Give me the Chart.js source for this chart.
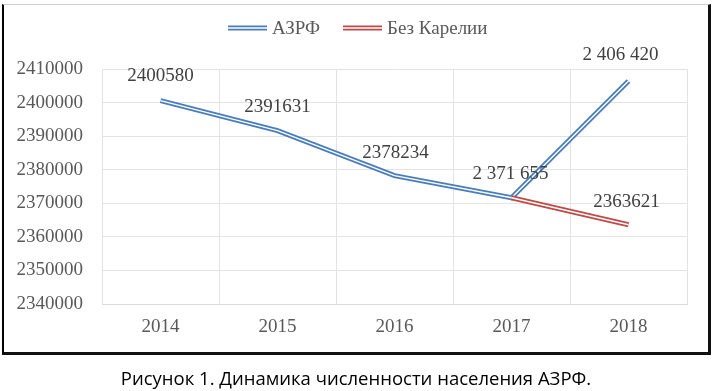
<!DOCTYPE html>
<html>
<head>
<meta charset="utf-8">
<script src="https://cdn.jsdelivr.net/npm/chart.js@4.4.1/dist/chart.umd.min.js"></script>
<style>
  html, body { margin: 0; padding: 0; background: #fff; }
  body { width: 712px; height: 391px; position: relative; overflow: hidden; }
  #wrap { position: absolute; left: 0; top: 0; width: 712px; height: 391px; }
  #frame { position: absolute; left: 2px; top: 4px; width: 704px; height: 347px;
    border-left: 2px solid #000; border-right: 3px solid #111; border-bottom: 3px solid #111; border-top: 1px solid #d0d0d0;
    pointer-events: none; }
  #caption { position: absolute; left: 0; top: 365px; width: 712px; text-align: center;
    font-family: "Open Sans", "Noto Sans", sans-serif; font-size: 18.5px; color: #000; line-height: 26px; }
</style>
</head>
<body>
<div id="wrap"><canvas id="c" width="712" height="391"></canvas></div>
<div id="frame"></div>
<div id="caption">Рисунок 1. Динамика численности населения АЗРФ.</div>
<script>
const categories = ['2014', '2015', '2016', '2017', '2018'];
const seriesNames = ['АЗРФ', 'Без Карелии'];
const azrfValues = [2400580, 2391631, 2378234, 2371655, 2406420];
const noKareliaValues = [null, null, null, 2371655, 2363621];
const azrfLabels = ['2400580', '2391631', '2378234', '2 371 655', '2 406 420'];
const noKareliaLabels = [null, null, null, null, '2363621'];
const yMin = 2340000, yMax = 2410000, yStep = 10000;

const SERIF = '"Liberation Serif", "DejaVu Serif", serif';
const colors = ['#4A7EBB', '#BE4B48'];
const labelOffsets = [
  [[0, -25], [0, -24], [1, -23], [-1, -24], [-8, -26]],
  [null, null, null, null, [-2, -23]]
];

const doubleLine = {
  id: 'doubleLine',
  afterDatasetDraw(chart, args) {
    const meta = args.meta;
    const ctx = chart.ctx;
    ctx.save();
    ctx.strokeStyle = '#ffffff';
    ctx.lineWidth = 1.4;
    ctx.lineJoin = 'round';
    ctx.beginPath();
    let started = false;
    meta.data.forEach((pt, i) => {
      const v = chart.data.datasets[args.index].data[i];
      if (v === null || v === undefined) { started = false; return; }
      if (!started) { ctx.moveTo(pt.x, pt.y); started = true; }
      else ctx.lineTo(pt.x, pt.y);
    });
    ctx.stroke();
    ctx.restore();
  }
};

const dataLabels = {
  id: 'dataLabels',
  afterDatasetsDraw(chart) {
    const ctx = chart.ctx;
    const allLabels = [azrfLabels, noKareliaLabels];
    ctx.save();
    ctx.font = '19px ' + SERIF;
    ctx.fillStyle = '#404040';
    ctx.textAlign = 'center';
    ctx.textBaseline = 'middle';
    chart.data.datasets.forEach((ds, di) => {
      const meta = chart.getDatasetMeta(di);
      allLabels[di].forEach((txt, i) => {
        if (!txt) return;
        const pt = meta.data[i];
        const off = labelOffsets[di][i];
        ctx.fillText(txt, pt.x + off[0], pt.y + off[1]);
      });
    });
    ctx.restore();
  }
};

const customLegend = {
  id: 'customLegend',
  afterDraw(chart) {
    const ctx = chart.ctx;
    ctx.save();
    ctx.font = '19px ' + SERIF;
    const sw = 39, gap1 = 5, gap2 = 23;
    const widths = seriesNames.map(n => sw + gap1 + ctx.measureText(n).width);
    const x0 = 228;
    let x = x0;
    const y = 28;
    seriesNames.forEach((n, i) => {
      ctx.strokeStyle = colors[i];
      ctx.lineWidth = 5;
      ctx.beginPath(); ctx.moveTo(x, y); ctx.lineTo(x + sw, y); ctx.stroke();
      ctx.strokeStyle = '#fff';
      ctx.lineWidth = 1.4;
      ctx.beginPath(); ctx.moveTo(x, y); ctx.lineTo(x + sw, y); ctx.stroke();
      ctx.fillStyle = '#595959';
      ctx.textBaseline = 'middle';
      ctx.textAlign = 'left';
      ctx.fillText(n, x + sw + gap1, y + 1);
      x += widths[i] + gap2;
    });
    ctx.restore();
  }
};

new Chart(document.getElementById('c'), {
  type: 'line',
  data: {
    labels: categories,
    datasets: [
      { label: seriesNames[0], data: azrfValues, borderColor: colors[0], borderWidth: 5, pointRadius: 0, tension: 0, fill: false, order: 1 },
      { label: seriesNames[1], data: noKareliaValues, borderColor: colors[1], borderWidth: 5, pointRadius: 0, tension: 0, fill: false, order: 0 }
    ]
  },
  options: {
    responsive: false,
    animation: false,
    events: [],
    layout: { padding: { left: 4, right: 25, top: 69, bottom: 47 } },
    plugins: { legend: { display: false }, tooltip: { enabled: false } },
    scales: {
      x: {
        offset: true,
        grid: { offset: true, color: '#E3E3E3', lineWidth: 1, drawTicks: false },
        border: { color: '#D9D9D9' },
        ticks: { font: { family: SERIF, size: 19 }, color: '#595959', padding: 12 },
        afterFit(s) { s.height = 40; }
      },
      y: {
        min: yMin, max: yMax,
        grid: { color: '#E3E3E3', lineWidth: 1, drawTicks: false },
        border: { display: false },
        ticks: { stepSize: yStep, font: { family: SERIF, size: 19 }, color: '#595959', padding: 19,
          callback: v => String(v) },
        afterFit(s) { s.width = 98; }
      }
    }
  },
  plugins: [doubleLine, dataLabels, customLegend]
});
</script>
</body>
</html>
